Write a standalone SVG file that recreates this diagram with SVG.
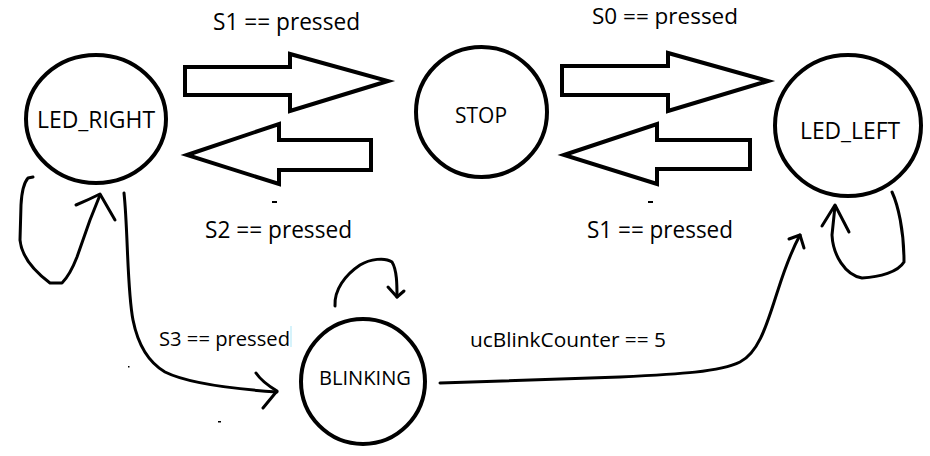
<svg xmlns="http://www.w3.org/2000/svg" width="930" height="456" viewBox="0 0 930 456">
<style>
.node{fill:none;stroke:#000;stroke-width:4}
.blk{fill:#fff;stroke:#000;stroke-width:4;stroke-linejoin:miter}
.hand{fill:none;stroke:#000;stroke-width:3;stroke-linecap:round;stroke-linejoin:round}
.t{font-family:"Open Sans","Noto Sans","Liberation Sans",sans-serif;fill:#000}
</style>
<rect width="930" height="456" fill="#fff"/>
<g id="connectors">
  <polygon class="blk" points="185,67 290,67 290,54 388,81 290,111 290,95 185,95"/>
  <polygon class="blk" points="187,155 279,124 279,140 371,140 371,170 279,170 279,184"/>
  <polygon class="blk" points="562,66 668,66 668,53 768,81 668,111 668,95 562,95"/>
  <polygon class="blk" points="564,155 657,124 657,140 750,140 750,169 657,169 657,184"/>
  <path class="hand" d="M33 177 L28 178 Q22 185 21 205 L20 240 Q22 262 50 283 L62 283 Q70 275 77 257 L90 220 L100 195"/>
  <path class="hand" d="M76 205 Q88 200 100 194 L115 220"/>
  <path class="hand" d="M124 193 C128 230 127 290 133 320 C138 345 148 362 165 372 C185 382 220 388 277 392"/>
  <path class="hand" d="M256 373 Q262 382 277 391 L263 408"/>
  <path class="hand" d="M335 306 C334 290 345 275 360 265 C370 259 385 257 392 262 C397 270 397 285 397 297"/>
  <path class="hand" d="M388 287 L397 297 L404 291"/>
  <path class="hand" d="M440 383 L620 377 C680 374 720 372 740 362 C760 352 768 320 778 290 C786 265 793 248 800 235"/>
  <path class="hand" d="M789 239 L800 235 L804 248"/>
  <path class="hand" d="M892 192 C898 205 904 230 904 262 C898 272 880 277 862 278 C845 275 833 255 832 235 L835 206"/>
  <path class="hand" d="M822 226 L835 205 L849 232"/>
</g>
<g id="LED_RIGHT">
  <ellipse class="node" cx="96" cy="119" rx="70" ry="64"/>
  <text class="t" x="37" y="128" font-size="23" textLength="118" lengthAdjust="spacingAndGlyphs">LED_RIGHT</text>
</g>
<g id="STOP">
  <ellipse class="node" cx="481.5" cy="112" rx="65.5" ry="65"/>
  <text class="t" x="455" y="123" font-size="22" textLength="52" lengthAdjust="spacingAndGlyphs">STOP</text>
</g>
<g id="LED_LEFT">
  <ellipse class="node" cx="848" cy="125.5" rx="73" ry="70.5"/>
  <text class="t" x="800" y="139" font-size="23" textLength="100" lengthAdjust="spacingAndGlyphs">LED_LEFT</text>
</g>
<g id="BLINKING">
  <ellipse class="node" cx="363" cy="381.5" rx="62" ry="62.5"/>
  <text class="t" x="319" y="385" font-size="20" textLength="92" lengthAdjust="spacingAndGlyphs">BLINKING</text>
</g>
<g id="labels">
  <text class="t" x="213" y="30" font-size="23" textLength="147" lengthAdjust="spacingAndGlyphs">S1 == pressed</text>
  <text class="t" x="592" y="23.5" font-size="22" textLength="146" lengthAdjust="spacingAndGlyphs">S0 == pressed</text>
  <text class="t" x="205" y="238" font-size="23" textLength="147" lengthAdjust="spacingAndGlyphs">S2 == pressed</text>
  <text class="t" x="587" y="238" font-size="23" textLength="146" lengthAdjust="spacingAndGlyphs">S1 == pressed</text>
  <text class="t" x="159" y="346" font-size="20" textLength="131" lengthAdjust="spacingAndGlyphs">S3 == pressed</text>
  <text class="t" x="470" y="347" font-size="20" textLength="196" lengthAdjust="spacingAndGlyphs">ucBlinkCounter == 5</text>
</g>
<g id="marks">
  <rect x="272" y="201" width="5" height="2" fill="#000"/>
  <rect x="648" y="201" width="5" height="2" fill="#000"/>
  <rect x="128" y="366" width="1.5" height="1.5" fill="#000"/>
  <rect x="218" y="421" width="3" height="1.5" fill="#000"/>
  <rect x="290" y="326" width="2" height="21" fill="#d6f3fb"/>
</g>
</svg>
